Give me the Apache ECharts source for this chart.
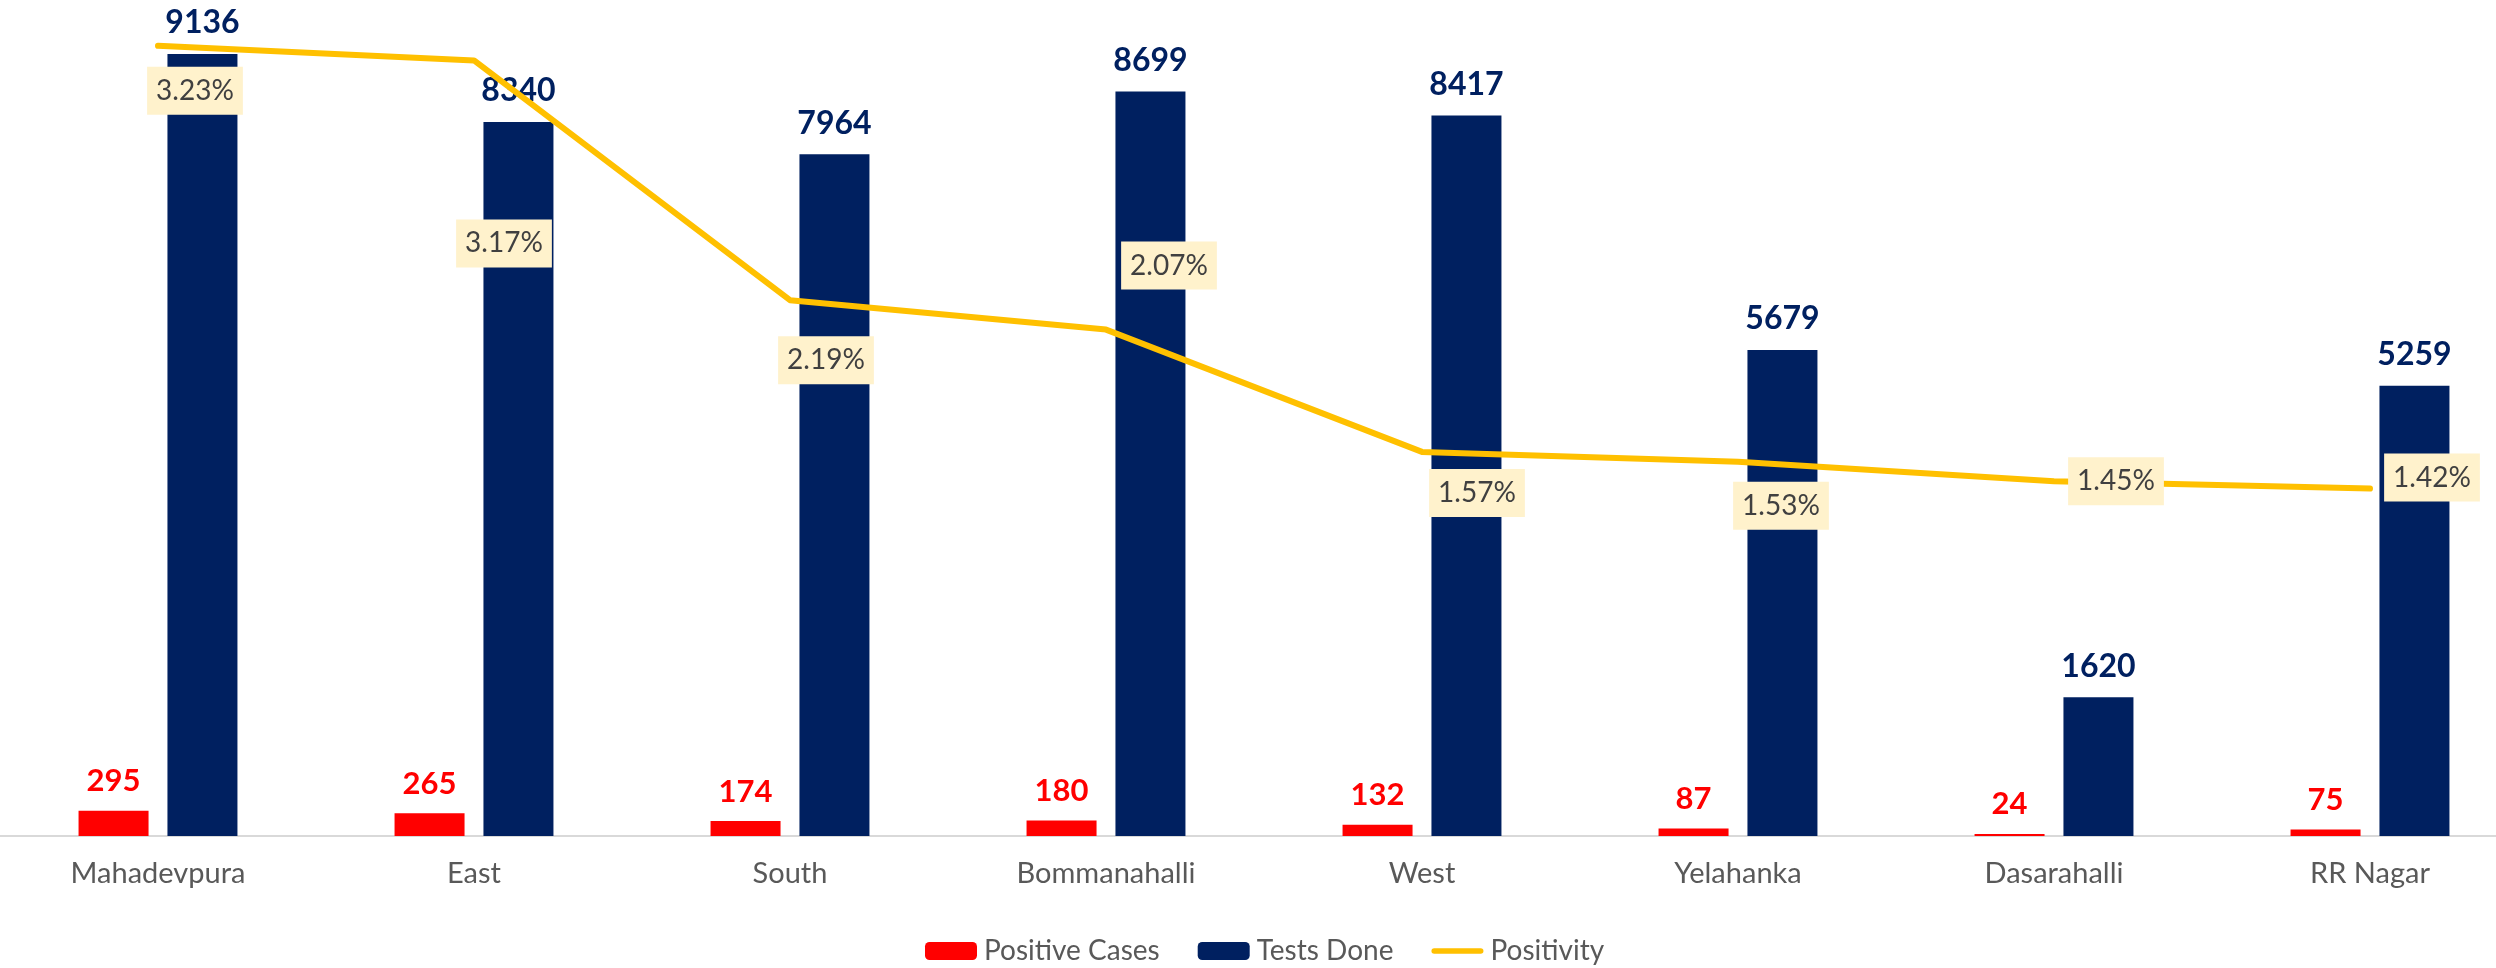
<!DOCTYPE html>
<html>
<head>
<meta charset="utf-8">
<script src="https://cdn.jsdelivr.net/npm/echarts@6/dist/echarts.min.js"></script>
<style>
  html, body { margin: 0; padding: 0; background: #fff; }
  #chart { width: 2496px; height: 968px; }
</style>
</head>
<body>
<div id="chart"></div>
<script>
// zones
const zones = ['Mahadevpura', 'East', 'South', 'Bommanahalli', 'West', 'Yelahanka', 'Dasarahalli', 'RR Nagar']
// positive cases
const positiveCases = [295, 265, 174, 180, 132, 87, 24, 75]
// tests done
const testsDone = [9136, 8340, 7964, 8699, 8417, 5679, 1620, 5259]
// positivity in %
const positivity = [3.23, 3.17, 2.19, 2.07, 1.57, 1.53, 1.45, 1.42]

// where each positivity label box sits relative to its point (hand placed in the original)
const labelShift = [[37, 45], [30, 183], [36, 60], [63, -64], [55, 41], [43, 44], [62, 0], [62, -11]]

const FONT = 'Lato'

let option = {
    animation: false,
    backgroundColor: '#fff',
    textStyle: { fontFamily: FONT },
    legend: {
        left: 920,
        top: 932,
        itemWidth: 52,
        itemHeight: 18,
        itemGap: 38,
        textStyle: { fontFamily: FONT, fontSize: 28, color: '#595959', padding: [0, 0, 0, 2] },
        data: [
            'Positive Cases',
            'Tests Done',
            // plain rounded stroke, no marker dot
            { name: 'Positivity', icon: 'path://M3,0 L54,0 A3,3 0 0 1 54,6 L3,6 A3,3 0 0 1 3,0 Z' }
        ]
    },
    grid: {
        left: 0,
        top: 36,
        width: 2528,
        bottom: 132,
        outerBoundsMode: 'none',
        containLabel: false
    },
    xAxis: {
        type: 'category',
        data: zones,
        axisLine: { lineStyle: { color: '#d9d9d9', width: 2 } },
        axisTick: { show: false },
        axisLabel: { fontFamily: FONT, fontSize: 29, color: '#595959', margin: 23 }
    },
    yAxis: [
        { type: 'value', min: 0, max: 9346, show: false },
        { type: 'value', min: 0, max: 3.27, show: false }
    ],
    series: [
        {
            name: 'Positive Cases',
            type: 'bar',
            data: positiveCases,
            barWidth: 70,
            barGap: '27%',
            itemStyle: { color: '#FF0000' },
            label: {
                show: true,
                position: 'top',
                distance: 14,
                fontFamily: FONT,
                fontSize: 31,
                fontWeight: 'bold',
                color: '#FF0000'
            }
        },
        {
            name: 'Tests Done',
            type: 'bar',
            data: testsDone,
            barWidth: 70,
            itemStyle: { color: '#002060' },
            label: {
                show: true,
                position: 'top',
                distance: 15,
                fontFamily: FONT,
                fontSize: 32,
                fontWeight: 'bold',
                color: '#002060'
            }
        },
        {
            name: 'Positivity',
            type: 'line',
            yAxisIndex: 1,
            z: 5,
            symbol: 'circle',
            symbolSize: 0.1,
            showSymbol: true,
            itemStyle: { color: '#FFC000' },
            lineStyle: { color: '#FFC000', width: 6, cap: 'round', join: 'round' },
            data: positivity.map((v, i) => ({
                value: v,
                label: { offset: labelShift[i] }
            })),
            label: {
                show: true,
                position: 'inside',
                formatter: p => p.value.toFixed(2) + '%',
                fontFamily: FONT,
                fontSize: 28,
                lineHeight: 28,
                color: '#404040',
                backgroundColor: '#FFF2CC',
                padding: [10, 9]
            }
        }
    ]
}

let chartDom = echarts.init(document.querySelector('#chart'))
chartDom.setOption(option)
</script>
</body>
</html>
